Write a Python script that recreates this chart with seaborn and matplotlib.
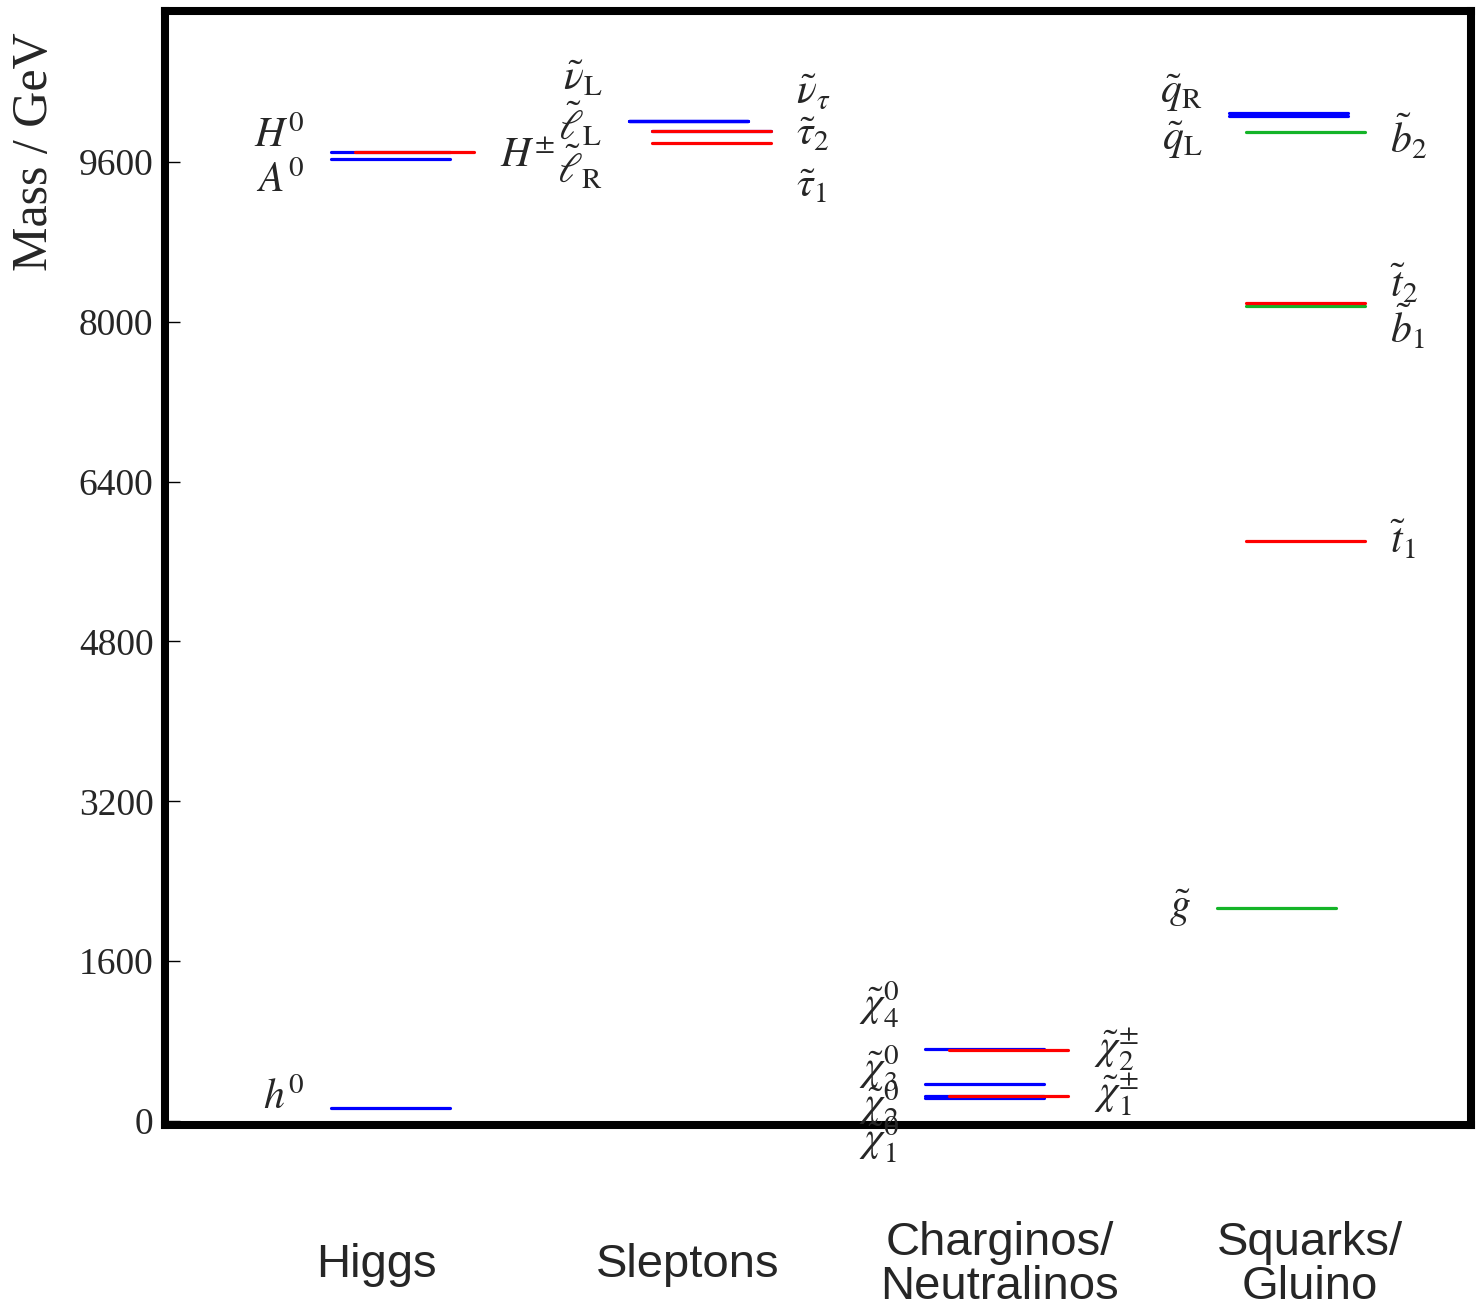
import matplotlib
matplotlib.use("Agg")
import matplotlib.pyplot as plt
import seaborn as sns
import pandas as pd
import numpy as np

# ---------------- data (masses in GeV) ----------------
names = ["h0", "H0", "A0", "Hpm",
         "nuL", "lL", "lR", "nutau", "stau2", "stau1",
         "N1", "N2", "N3", "N4", "C1", "C2",
         "qR", "qL", "b2", "t2", "b1", "t1", "gluino"]
masses = [127, 9700, 9630, 9700,
          10012, 10012, 10012, 9905, 9905, 9790,
          232, 248, 373, 724, 250, 708,
          10085, 10055, 9900, 8190, 8160, 5810, 2135]
labels = [r"$h^0$", r"$H^0$", r"$A^0$", r"$H^{\pm}$",
          r"$\tilde{\nu}_\mathrm{L}$", r"$\tilde{\ell}_\mathrm{L}$", r"$\tilde{\ell}_\mathrm{R}$",
          r"$\tilde{\nu}_\tau$", r"$\tilde{\tau}_2$", r"$\tilde{\tau}_1$",
          r"$\tilde{\chi}^0_1$", r"$\tilde{\chi}^0_2$", r"$\tilde{\chi}^0_3$", r"$\tilde{\chi}^0_4$",
          r"$\tilde{\chi}^{\pm}_1$", r"$\tilde{\chi}^{\pm}_2$",
          r"$\tilde{q}_\mathrm{R}$", r"$\tilde{q}_\mathrm{L}$", r"$\tilde{b}_2$", r"$\tilde{t}_2$",
          r"$\tilde{b}_1$", r"$\tilde{t}_1$", r"$\tilde{g}$"]
# label heights after de-overlapping (GeV)
label_mass = [240, 9870, 9419, 9670,
              10440, 9970, 9540, 10300, 9890, 9370,
              -190, 160, 531, 1161, 260, 711,
              10290, 9820, 9840, 8368, 7938, 5806, 2132]
categories = ["Higgs", "Sleptons", "Charginos/\nNeutralinos", "Squarks/\nGluino"]
yticks = [0, 1600, 3200, 4800, 6400, 8000, 9600]

# ---------------- layout / style ----------------
# column centres (x units = pixels from left spine)
col = {"hn": 225.5, "hc": 249.5, "sl": 523.5, "sr": 546.5,
       "il": 820.0, "ir": 843.5, "ql": 1123.5, "qr": 1140.5, "gl": 1111.5}
cat_x = [211.5, 523.5, 835.5, 1145.5]
particle_col = ["hn", "hn", "hn", "hc",
                "sl", "sl", "sl", "sr", "sr", "sr",
                "il", "il", "il", "il", "ir", "ir",
                "ql", "ql", "qr", "qr", "qr", "qr", "gl"]
side = ["L", "L", "L", "R",
        "L", "L", "L", "R", "R", "R",
        "L", "L", "L", "L", "R", "R",
        "L", "L", "R", "R", "R", "R", "L"]
BLUE, RED, GREEN = "#0000ff", "#ff0000", "#14b428"
colours = [BLUE, BLUE, BLUE, RED,
           BLUE, BLUE, BLUE, BLUE, RED, RED,
           BLUE, BLUE, BLUE, BLUE, RED, RED,
           BLUE, BLUE, GREEN, RED, GREEN, RED, GREEN]
HALF = 59.5
# drawing order (later on top)
order = [0, 1, 2, 4, 5, 6, 7, 10, 11, 12, 13, 16, 17, 22, 18, 20, 3, 8, 9, 14, 15, 19, 21]

sns.set_style("ticks")
plt.rcParams["mathtext.fontset"] = "stix"

fig = plt.figure(figsize=(14.76, 13.07), dpi=100)
ax = fig.add_axes([164.5 / 1476, (1307 - 1124.5) / 1307,
                   (1471 - 164.5) / 1476, (1124.5 - 11) / 1307])

rows = []
for i in order:
    c = col[particle_col[i]]
    for x in (c - HALF, c + HALF):
        rows.append({"x": x, "mass": masses[i], "seg": names[i]})
df = pd.DataFrame(rows)
palette = {names[i]: colours[i] for i in range(len(names))}
sns.lineplot(data=df, x="x", y="mass", hue="seg", hue_order=[names[i] for i in order],
             palette=palette, estimator=None, sort=False, legend=False,
             linewidth=2.3, ax=ax)

for i in range(len(names)):
    c = col[particle_col[i]]
    if side[i] == "L":
        ax.text(c - HALF - 26, label_mass[i], labels[i], ha="right", va="center",
                fontsize=30, clip_on=False)
    else:
        ax.text(c + HALF + 26, label_mass[i], labels[i], ha="left", va="center",
                fontsize=30, clip_on=False)

ax.set_xlim(0, 1306.5)
ax.set_ylim(-35, 11111)
ax.set_xticks([])
ax.set_yticks(yticks)
ax.set_yticklabels([str(t) for t in yticks], fontfamily="Liberation Serif", fontsize=27)
ax.tick_params(axis="y", direction="in", length=11, width=1, pad=8, color="black")
ax.set_xlabel("")
ax.set_ylabel("")
for s in ax.spines.values():
    s.set_visible(True)
    s.set_linewidth(5.8)
    s.set_color("black")

for cx, name in zip(cat_x, categories):
    ax.text(cx, (1124.5 - 1265) / 1113.5, name, transform=ax.get_xaxis_transform(),
            ha="center", va="center", multialignment="center", fontsize=34,
            fontfamily="Liberation Sans", linespacing=1.0)

fig.text(35 / 1476, 1 - 152 / 1307, "Mass / GeV", rotation=90, ha="center", va="center",
         fontsize=36, fontfamily="Liberation Serif")

fig.savefig("out.png", dpi=100)
